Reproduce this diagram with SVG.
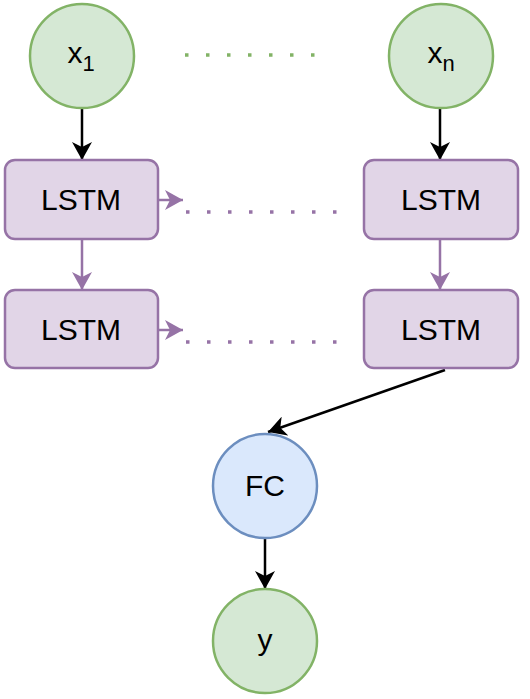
<svg xmlns="http://www.w3.org/2000/svg" width="530" height="699" viewBox="0 0 530 699">
<style>
.green{fill:#d5e8d4;stroke:#82b366;stroke-width:2.5}
.purple{fill:#e1d5e7;stroke:#9673a6;stroke-width:2.5}
.blue{fill:#dae8fc;stroke:#6c8ebf;stroke-width:2.5}
text{font-family:"Liberation Sans",Arial,sans-serif;font-size:30px;fill:#000;text-anchor:middle}
.blk{stroke:#000;stroke-width:2.5;fill:none}
.pur{stroke:#9673a6;stroke-width:2.5;fill:none}
</style>
<defs>
<marker id="ab" viewBox="0 0 18 20" refX="18" refY="10" markerWidth="18" markerHeight="20" markerUnits="userSpaceOnUse" orient="auto">
<path d="M0,0 L18,10 L0,20 L5,10 Z" fill="#000"/>
</marker>
<marker id="ap" viewBox="0 0 18 20" refX="18" refY="10" markerWidth="18" markerHeight="20" markerUnits="userSpaceOnUse" orient="auto">
<path d="M0,0 L18,10 L0,20 L5,10 Z" fill="#9673a6"/>
</marker>
</defs>
<g id="connectors">
<line class="blk" x1="82" y1="108" x2="82" y2="160" marker-end="url(#ab)"/>
<line class="blk" x1="440" y1="108" x2="440" y2="160" marker-end="url(#ab)"/>
<line class="pur" x1="82" y1="239" x2="82" y2="290" marker-end="url(#ap)"/>
<line class="pur" x1="440" y1="239" x2="440" y2="290" marker-end="url(#ap)"/>
<line class="pur" x1="158" y1="200" x2="183" y2="200" marker-end="url(#ap)"/>
<line class="pur" x1="158" y1="330" x2="183" y2="330" marker-end="url(#ap)"/>
<line x1="185" y1="55" x2="320" y2="55" stroke="#82b366" stroke-width="3.5" stroke-dasharray="3.5 17.5"/>
<line x1="186" y1="212" x2="340" y2="212" stroke="#9673a6" stroke-width="3.5" stroke-dasharray="3.5 17.5"/>
<line x1="186" y1="342" x2="340" y2="342" stroke="#9673a6" stroke-width="3.5" stroke-dasharray="3.5 17.5"/>
<line class="blk" x1="445" y1="370" x2="268" y2="432" marker-end="url(#ab)"/>
<line class="blk" x1="265" y1="538" x2="265" y2="589" marker-end="url(#ab)"/>
</g>
<g id="x1">
<circle class="green" cx="82" cy="56" r="52"/>
<text x="81" y="63"><tspan>x</tspan><tspan font-size="22" dy="8">1</tspan></text>
</g>
<g id="xn">
<circle class="green" cx="441" cy="56" r="52"/>
<text x="441" y="63"><tspan>x</tspan><tspan font-size="22" dy="8">n</tspan></text>
</g>
<g id="lstm11">
<rect class="purple" x="5" y="160" width="153" height="79" rx="10"/>
<text x="81" y="210">LSTM</text>
</g>
<g id="lstm1n">
<rect class="purple" x="364" y="160" width="154" height="79" rx="10"/>
<text x="441" y="210">LSTM</text>
</g>
<g id="lstm21">
<rect class="purple" x="5" y="290" width="153" height="78" rx="10"/>
<text x="81" y="340">LSTM</text>
</g>
<g id="lstm2n">
<rect class="purple" x="364" y="290" width="154" height="78" rx="10"/>
<text x="441" y="340">LSTM</text>
</g>
<g id="fc">
<circle class="blue" cx="265" cy="486" r="52"/>
<text x="265" y="496">FC</text>
</g>
<g id="y">
<circle class="green" cx="265" cy="641" r="52"/>
<text x="265" y="650">y</text>
</g>
</svg>
